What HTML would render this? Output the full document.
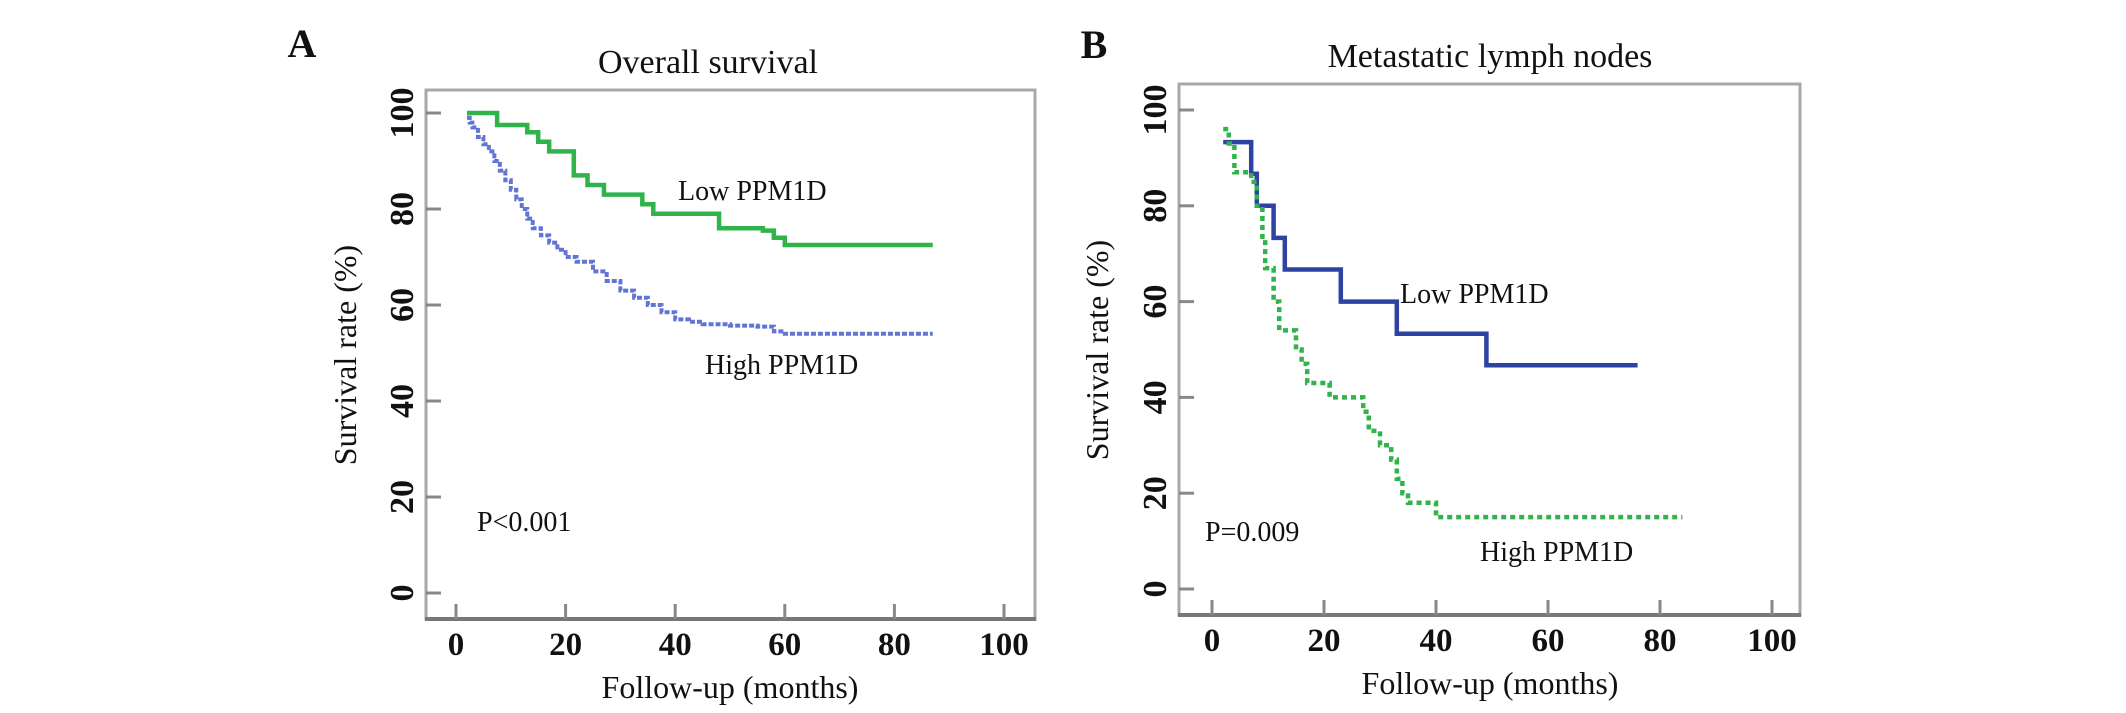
<!DOCTYPE html>
<html><head><meta charset="utf-8"><style>
html,body{margin:0;padding:0;background:#fff;}
svg{display:block;}
text{font-family:"Liberation Serif",serif;fill:#111;}
</style></head><body>
<svg id="fig" width="2126" height="713" viewBox="0 0 2126 713">
<g id="pA"></g>
<g id="pB"></g>
</svg>
<script>
// ---- data ----
const xTicks = [0, 20, 40, 60, 80, 100];
const yTicks = [0, 20, 40, 60, 80, 100];
// Panel A: overall survival
const aLowT = [2, 7.5, 13, 15, 17, 21.5, 24, 27, 34, 36, 38, 48, 56, 58, 60, 87];
const aLowS = [100, 97.5, 96, 94, 92, 87, 85, 83, 81, 79, 79, 76, 75.5, 74, 72.5, 72.5];
const aHighT = [2, 2.5, 3, 4, 5, 6, 7, 8, 9, 10, 11, 12, 13, 14, 15.5, 17, 18.5, 20, 22, 25, 27.5, 30, 32.5, 35, 37.5, 40, 42.5, 45, 50, 55, 58, 60, 87];
const aHighS = [99, 98, 97, 95, 93.5, 92, 90, 88, 86, 84, 82, 80, 78, 76, 74.5, 73, 71.5, 70, 69, 67, 65, 63, 61.5, 60, 58.5, 57, 56.5, 56, 55.7, 55.5, 54.5, 54, 54];
// Panel B: metastatic lymph nodes
const bLowT = [2, 7, 8, 11, 13, 23, 33, 49, 76];
const bLowS = [93.3, 86.7, 80, 73.3, 66.7, 60, 53.3, 46.7, 46.7];
const bHighT = [2, 3, 4, 7, 8, 9, 9.5, 11, 12, 15, 16, 17, 21, 27, 28, 30, 32, 33, 34, 35, 40, 84];
const bHighS = [96, 93, 87, 85, 80, 73, 67, 60, 54, 50, 47, 43, 40, 37, 33, 30, 27, 23, 20, 18, 15, 15];

const NS = 'http://www.w3.org/2000/svg';
function mk(parent, tag, attrs){const e=document.createElementNS(NS,tag);for(const k in attrs)e.setAttribute(k,attrs[k]);parent.appendChild(e);return e;}

function panel(g, cfg){
  const sx = v => cfg.x0 + (cfg.x100 - cfg.x0) * v / 100;
  const sy = v => cfg.y0 + (cfg.y100 - cfg.y0) * v / 100;
  const frame = mk(g,'rect',{x:cfg.L,y:cfg.T,width:cfg.R-cfg.L,height:cfg.B-cfg.T,fill:'none',stroke:'#a8a8a8','stroke-width':3});
  
  
  const xa = mk(g,'line',{x1:cfg.L-1,x2:cfg.R+1,y1:cfg.B,y2:cfg.B,stroke:'#777','stroke-width':4});
  
  
  xTicks.forEach(v=>{
    const t = mk(g,'line',{x1:sx(v),x2:sx(v),y1:cfg.B,y2:cfg.B-15,stroke:'#888','stroke-width':3});
    
    
    const l = mk(g,'text',{x:sx(v),y:cfg.B+36,'text-anchor':'middle','font-size':33,'font-weight':'bold'});
    l.textContent = v;
    
    
  });
  yTicks.forEach(v=>{
    const t = mk(g,'line',{x1:cfg.L,x2:cfg.L+15,y1:sy(v),y2:sy(v),stroke:'#888','stroke-width':3});
    
    
    const l = mk(g,'text',{x:0,y:0,'text-anchor':'middle','font-size':34,'font-weight':'bold',transform:`translate(${cfg.L-13},${sy(v)}) rotate(-90)`});
    l.textContent = v;
    
    
  });
  function step(T,S,color,dash,width,name){
    let d = `M${sx(T[0])},${sy(S[0])}`;
    for(let i=1;i<T.length;i++){ d += ` H${sx(T[i])} V${sy(S[i])}`; }
    const p = mk(g,'path',{d:d,fill:'none',stroke:color,'stroke-width':width});
    if(dash) p.setAttribute('stroke-dasharray',dash);
    
    
  }
  step(cfg.lowT,cfg.lowS,cfg.lowColor,cfg.lowDash,4.5,'low-ppm1d-curve');
  step(cfg.highT,cfg.highS,cfg.highColor,cfg.highDash,cfg.highW,'high-ppm1d-curve');
  cfg.texts.forEach(t=>{
    const e = mk(g,'text',{x:t.x,y:t.y,'font-size':t.fs,'text-anchor':t.a||'start','font-weight':t.w||'normal'});
    if(t.r) e.setAttribute('transform',`rotate(-90 ${t.x} ${t.y})`);
    e.textContent = t.s;
    
    
  });
}

panel(document.getElementById('pA'),{
  L:426,R:1035,T:90,B:619,x0:456,x100:1004,y0:593,y100:113,
  lowT:aLowT,lowS:aLowS,highT:aHighT,highS:aHighS,
  lowColor:'#2fb34a',lowDash:null,highColor:'#6275d4',highDash:'5 2',highW:4,
  texts:[
    {x:302,y:57,fs:40,w:'bold',a:'middle',s:'A',n:'panel-a-label'},
    {x:708,y:73,fs:34,a:'middle',s:'Overall survival',n:'panel-a-title'},
    {x:356,y:355,fs:32,a:'middle',r:true,s:'Survival rate (%)',n:'y-axis-title'},
    {x:730,y:698,fs:32,a:'middle',s:'Follow-up (months)',n:'x-axis-title'},
    {x:678,y:200,fs:28,s:'Low PPM1D',n:'low-ppm1d-label'},
    {x:705,y:374,fs:28,s:'High PPM1D',n:'high-ppm1d-label'},
    {x:477,y:531,fs:28,s:'P<0.001',n:'p-value'}
  ]
});
panel(document.getElementById('pB'),{
  L:1179,R:1800,T:84,B:615,x0:1212,x100:1772,y0:589,y100:110,
  lowT:bLowT,lowS:bLowS,highT:bHighT,highS:bHighS,
  lowColor:'#2e42a4',lowDash:null,highColor:'#2fb34a',highDash:'5 4',highW:4.5,
  texts:[
    {x:1094,y:58,fs:40,w:'bold',a:'middle',s:'B',n:'panel-b-label'},
    {x:1490,y:67,fs:34,a:'middle',s:'Metastatic lymph nodes',n:'panel-b-title'},
    {x:1108,y:350,fs:32,a:'middle',r:true,s:'Survival rate (%)',n:'y-axis-title'},
    {x:1490,y:694,fs:32,a:'middle',s:'Follow-up (months)',n:'x-axis-title'},
    {x:1400,y:303,fs:28,s:'Low PPM1D',n:'low-ppm1d-label'},
    {x:1480,y:561,fs:28,s:'High PPM1D',n:'high-ppm1d-label'},
    {x:1205,y:541,fs:28,s:'P=0.009',n:'p-value'}
  ]
});
</script>
</body></html>
